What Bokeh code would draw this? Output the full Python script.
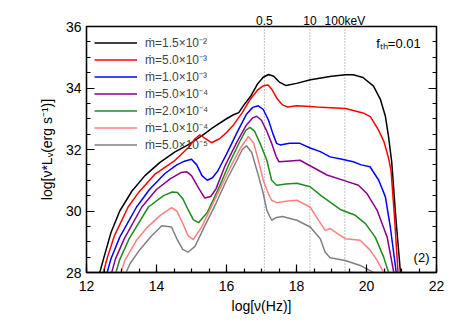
import math
from bokeh.plotting import figure
from bokeh.models import FixedTicker, LinearAxis, Span, Label
from bokeh.embed import file_html
from bokeh.resources import INLINE

FONT = "Liberation Sans"

# ---- data (log nu [Hz], log nu*L_nu [erg/s]) ----
x_m15e2 = [12.38, 12.5, 12.7, 12.95, 13.3, 13.67, 14.1, 14.53, 14.9, 15.3, 15.6, 16.0, 16.2, 16.35, 16.5, 16.7, 16.88,
           17.05, 17.2, 17.35, 17.5, 17.7, 18.0, 18.4, 19.0, 19.4, 19.62, 19.9, 20.2, 20.4, 20.54, 20.63, 20.72, 20.83, 20.97]
y_m15e2 = [28.0, 28.5, 29.3, 30.0, 30.65, 31.15, 31.58, 31.92, 32.15, 32.45, 32.7, 33.0, 33.13, 33.2, 33.45, 33.75, 34.12,
           34.35, 34.44, 34.38, 34.2, 34.08, 34.15, 34.27, 34.38, 34.43, 34.43, 34.34, 34.06, 33.62, 33.08, 32.42, 31.6, 29.9, 28.0]

x_m5e3 = [12.48, 12.6, 12.8, 13.19, 13.5, 13.96, 14.5, 14.9, 15.1, 15.24, 15.4, 15.57, 15.8, 16.0, 16.2, 16.45, 16.67,
          16.9, 17.05, 17.19, 17.3, 17.45, 17.6, 17.75, 18.0, 18.4, 18.7, 19.4, 19.9, 20.11, 20.34, 20.5, 20.62, 20.7, 20.8, 20.9]
y_m5e3 = [28.0, 28.5, 29.2, 30.13, 30.62, 31.2, 31.62, 32.05, 32.35, 32.48, 32.35, 32.22, 32.35, 32.55, 32.8, 33.2, 33.62,
          33.95, 34.07, 34.1, 33.95, 33.65, 33.45, 33.38, 33.42, 33.4, 33.37, 33.33, 33.19, 33.07, 32.64, 32.25, 31.76, 31.33, 29.8, 28.0]

x_m1e3 = [12.59, 12.7, 12.95, 13.43, 13.8, 14.24, 14.58, 14.8, 15.0, 15.15, 15.3, 15.45, 15.6, 15.75, 16.0, 16.3, 16.57, 16.75,
          16.91, 17.05, 17.2, 17.33, 17.43, 17.53, 17.8, 18.1, 18.39, 18.68, 18.96, 19.3, 19.62, 19.85, 20.1, 20.35, 20.54, 20.68, 20.85]
y_m1e3 = [28.0, 28.45, 29.15, 30.13, 30.7, 31.22, 31.5, 31.62, 31.68, 31.5, 31.15, 31.0, 31.08, 31.3, 31.85, 32.55, 33.15, 33.37,
          33.42, 33.3, 32.95, 32.5, 32.2, 32.15, 32.2, 32.2, 32.05, 31.93, 31.76, 31.68, 31.6, 31.5, 31.44, 31.0, 30.46, 29.48, 28.0]

x_m5e4 = [12.72, 12.83, 13.08, 13.58, 14.0, 14.4, 14.7, 14.86, 15.0, 15.2, 15.38, 15.55, 15.7, 15.95, 16.3, 16.57, 16.75, 16.86,
          17.0, 17.15, 17.29, 17.42, 17.5, 17.72, 18.1, 18.44, 18.87, 19.39, 19.77, 20.01, 20.3, 20.59, 20.78]
y_m5e4 = [28.0, 28.45, 29.1, 30.13, 30.7, 31.05, 31.25, 31.28, 31.15, 30.75, 30.42, 30.47, 30.72, 31.45, 32.25, 32.8, 33.03, 33.08,
          32.95, 32.6, 32.2, 31.77, 31.6, 31.62, 31.65, 31.44, 31.17, 30.98, 30.84, 30.57, 30.03, 29.15, 28.0]

x_m2e4 = [12.84, 12.95, 13.22, 13.77, 14.2, 14.45, 14.6, 14.75, 14.9, 15.05, 15.2, 15.45, 15.8, 16.1, 16.38, 16.55, 16.67,
          16.8, 16.96, 17.15, 17.29, 17.43, 17.7, 18.01, 18.39, 18.7, 19.25, 19.68, 19.97, 20.25, 20.49, 20.63]
y_m2e4 = [28.0, 28.42, 29.1, 30.13, 30.5, 30.62, 30.6, 30.4, 30.05, 29.72, 29.62, 29.95, 30.8, 31.6, 32.26, 32.62, 32.72,
          32.6, 32.2, 31.66, 31.0, 30.84, 30.88, 30.9, 30.79, 30.5, 30.05, 29.86, 29.59, 29.15, 28.5, 28.0]

x_m1e4 = [12.98, 13.1, 13.43, 13.72, 14.1, 14.43, 14.58, 14.75, 14.9, 15.05, 15.3, 15.7, 16.1, 16.4, 16.62, 16.78, 16.92,
          17.05, 17.2, 17.29, 17.43, 17.7, 18.01, 18.39, 18.6, 18.82, 18.96, 19.39, 19.82, 20.11, 20.3, 20.49]
y_m1e4 = [28.0, 28.4, 29.05, 29.45, 29.85, 30.11, 30.0, 29.6, 29.2, 29.07, 29.5, 30.45, 31.4, 32.05, 32.42, 32.2, 31.6,
          31.0, 30.55, 30.35, 30.27, 30.32, 30.35, 30.13, 29.75, 29.37, 29.43, 29.1, 29.05, 28.72, 28.4, 28.0]

x_m5e5 = [13.13, 13.25, 13.53, 13.85, 14.15, 14.43, 14.6, 14.75, 14.9, 15.1, 15.33, 15.7, 16.0, 16.3, 16.45, 16.57, 16.72,
          16.9, 17.05, 17.15, 17.29, 17.43, 17.6, 18.01, 18.39, 18.68, 18.82, 18.96, 19.39, 19.82, 20.2]
y_m5e5 = [28.0, 28.3, 28.75, 29.18, 29.52, 29.48, 29.05, 28.75, 28.66, 28.85, 29.4, 30.25, 31.0, 31.65, 32.0, 32.12, 31.9,
          31.2, 30.57, 30.03, 29.7, 29.79, 29.82, 29.7, 29.48, 29.1, 28.66, 28.48, 28.39, 28.23, 28.0]

series_x = [x_m15e2, x_m5e3, x_m1e3, x_m5e4, x_m2e4, x_m1e4, x_m5e5]
series_y = [y_m15e2, y_m5e3, y_m1e3, y_m5e4, y_m2e4, y_m1e4, y_m5e5]
series_labels = ["ṁ=1.5×10⁻²", "ṁ=5.0×10⁻³", "ṁ=1.0×10⁻³", "ṁ=5.0×10⁻⁴",
                 "ṁ=2.0×10⁻⁴", "ṁ=1.0×10⁻⁴", "ṁ=5.0×10⁻⁵"]
series_colors = ["#000000", "#ff0000", "#0000ff", "#8b008b", "#1e8c1e", "#ff8080", "#808080"]

kev_values = [0.5, 10, 100]
kev_labels = ["0.5", "10", "100keV"]
x_ticks = [12, 14, 16, 18, 20, 22]
y_ticks = [28, 30, 32, 34, 36]

HZ_PER_KEV = 2.417989e17
kev_pos = [round(math.log10(e * HZ_PER_KEV), 3) for e in kev_values]

p = figure(frame_width=350, frame_height=246, x_range=(12, 22), y_range=(28, 36),
           output_backend="svg", toolbar_location=None,
           min_border_left=86, min_border_right=12, min_border_top=26, min_border_bottom=40)
p.xgrid.visible = False
p.ygrid.visible = False
p.outline_line_color = "black"
p.outline_line_width = 1.3
p.background_fill_color = "white"
p.border_fill_color = "white"

for sx in kev_pos:
    p.add_layout(Span(location=sx, dimension="height", line_color="#888888",
                      line_dash="1 2", line_width=1, level="underlay"))

for xs, ys, lab, col in zip(series_x, series_y, series_labels, series_colors):
    p.line(xs, ys, line_color=col, line_width=1.5, legend_label=lab)

minor_x = [12 + 0.5 * i for i in range(21)]
minor_y = [28 + 0.5 * i for i in range(17)]

def style_axis(ax):
    ax.axis_line_width = 1.3
    ax.major_tick_in = 8
    ax.major_tick_out = 0
    ax.minor_tick_in = 4
    ax.minor_tick_out = 0
    ax.major_tick_line_width = 1.2
    ax.minor_tick_line_width = 1.2
    ax.major_label_text_font = FONT
    ax.major_label_text_font_size = "14px"
    ax.major_label_text_color = "black"
    ax.axis_label_text_font = FONT
    ax.axis_label_text_font_size = "14px"
    ax.axis_label_text_font_style = "normal"
    ax.axis_label_text_color = "black"

xa = p.xaxis[0]
xa.ticker = FixedTicker(ticks=x_ticks, minor_ticks=minor_x)
style_axis(xa)
xa.major_label_standoff = 8
xa.axis_label = "log[ν(Hz)]"
xa.axis_label_standoff = 4

ya = p.yaxis[0]
ya.ticker = FixedTicker(ticks=y_ticks, minor_ticks=minor_y)
style_axis(ya)
ya.major_label_standoff = 5
ya.axis_label = "log[ν*Lᵥ(erg s⁻¹)]"
ya.axis_label_standoff = 8

ra = LinearAxis(ticker=FixedTicker(ticks=y_ticks, minor_ticks=minor_y),
                major_label_overrides={t: "" for t in y_ticks})
style_axis(ra)
ra.major_label_text_font_size = "0px"
ra.major_label_standoff = 0
p.add_layout(ra, "right")

ta = LinearAxis(ticker=FixedTicker(ticks=kev_pos, minor_ticks=[]),
                major_label_overrides={k: l for k, l in zip(kev_pos, kev_labels)})
style_axis(ta)
ta.major_tick_in = 0
ta.minor_tick_in = 0
ta.axis_line_color = None
ta.major_label_text_font_size = "12px"
ta.major_label_standoff = -1
p.add_layout(ta, "above")

p.add_layout(Label(x=21.55, y=35.45, text="fₜₕ=0.01", text_align="right", text_baseline="middle",
                   text_font=FONT, text_font_size="13px", text_color="black"))
p.add_layout(Label(x=21.8, y=28.5, text="(2)", text_align="right", text_baseline="middle",
                   text_font=FONT, text_font_size="13px", text_color="black"))

lg = p.legend[0]
lg.location = "top_left"
lg.margin = 0
lg.padding = 8
lg.spacing = -3
lg.label_height = 11
lg.glyph_height = 11
lg.glyph_width = 43
lg.label_standoff = 8
lg.label_text_font = FONT
lg.label_text_font_size = "12px"
lg.background_fill_alpha = 0
lg.border_line_alpha = 0

open("out.html", "w").write(file_html(p, INLINE))
